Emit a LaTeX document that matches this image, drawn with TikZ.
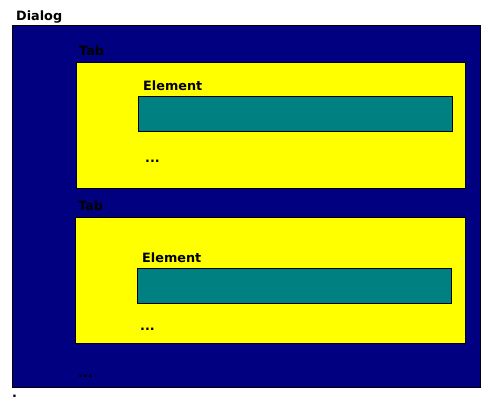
\documentclass[tikz,border=0pt]{standalone}
\usepackage{fontspec}
\setmainfont{DejaVu Sans}
\definecolor{dlgnavy}{HTML}{000080}
\definecolor{tabyellow}{HTML}{FFFF00}
\definecolor{elemteal}{HTML}{008080}
\begin{document}
\begin{tikzpicture}[x=1pt,y=-1pt,
  box/.style={draw=black,line width=1pt,anchor=north west,inner sep=0pt,outer sep=0pt},
  dialogbox/.style={box,fill=dlgnavy},
  tabbox/.style={box,fill=tabyellow},
  elembox/.style={box,fill=elemteal},
  lbl/.style={anchor=base west,inner sep=0pt,font=\fontsize{12.8}{14}\selectfont\bfseries}]
\useasboundingbox (0,0) rectangle (500,400);
\node[dialogbox,minimum width=468pt,minimum height=362pt] (dialog) at (12.5,25.5) {};
\node[tabbox,minimum width=389pt,minimum height=126pt] (tab1) at (76.5,62.5) {};
\node[elembox,minimum width=314pt,minimum height=35pt] (elem1) at (138.5,96.5) {};
\node[tabbox,minimum width=390pt,minimum height=126pt] (tab2) at (75.5,217.5) {};
\node[elembox,minimum width=314pt,minimum height=35pt] (elem2) at (137.5,268.5) {};
\node[lbl] (tDialog) at (16,20.5) {Dialog};
\node[lbl] (tTab1) at (79,55.5) {Tab};
\node[lbl] (tElem1) at (143,90.5) {Element};
\node[lbl] (tDots1) at (145,162) {...};
\node[lbl] (tTab2) at (78,210) {Tab};
\node[lbl] (tElem2) at (142,262) {Element};
\node[lbl] (tDots2) at (140,330) {...};
\node[lbl] (tDots3) at (78,377) {...};
\node[lbl] (tDot) at (12,397.5) {.};
\end{tikzpicture}
\end{document}
